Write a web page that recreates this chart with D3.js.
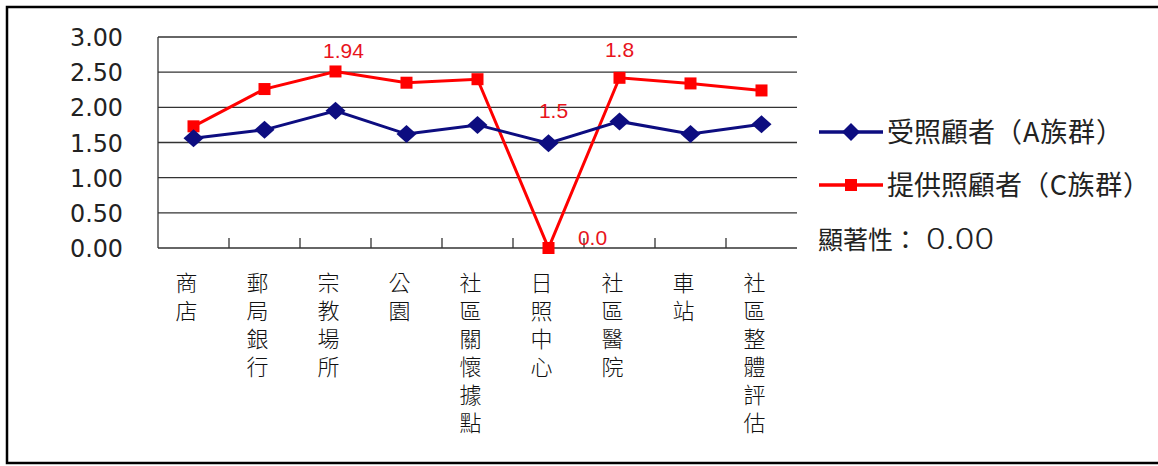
<!DOCTYPE html>
<html>
<head>
<meta charset="utf-8">
<script src="https://cdn.jsdelivr.net/npm/d3@7"></script>
<style>
  body { margin: 0; background: #fff; }
  svg text { font-family: "Noto Sans CJK TC", "Noto Sans", sans-serif; }
</style>
</head>
<body>
<svg id="chart" width="1158" height="466"></svg>
<script>
// chart data
let categories = ['商店', '郵局銀行', '宗教場所', '公園', '社區關懷據點', '日照中心', '社區醫院', '車站', '社區整體評估']
let seriesA = [1.56, 1.68, 1.95, 1.62, 1.75, 1.49, 1.80, 1.62, 1.76]
let seriesC = [1.73, 2.26, 2.51, 2.35, 2.40, 0.00, 2.42, 2.34, 2.24]
let seriesNames = [['受照顧者', '（A族群）'], ['提供照顧者', '（C族群）']]
let yTicks = [0, 0.5, 1, 1.5, 2, 2.5, 3]
// value labels: [category index, series, text]
let valueLabels = [[2, 'C', '1.94'], [5, 'A', '1.5'], [6, 'C', '1.8'], [5, 'C', '0.0']]
let significance = ['顯著性：', '0.00']

let svg = d3.select('#chart')
let blue = '#0d0d80'
let red = '#ff0000'

// outer frame
svg.append('rect')
    .attr('x', 7).attr('y', 7)
    .attr('width', 1170).attr('height', 456)
    .attr('fill', 'none').attr('stroke', '#000').attr('stroke-width', 2.5)

let plotLeft = 158, plotRight = 797, plotTop = 37, plotBottom = 248

let x = d3.scaleBand().domain(categories).range([plotLeft, plotRight])
let y = d3.scaleLinear().domain([0, 3]).range([plotBottom, plotTop])

// gridlines
svg.append('g').selectAll('line')
    .data(yTicks.slice(1))
    .enter().append('line')
    .attr('x1', plotLeft).attr('x2', plotRight)
    .attr('y1', d => y(d)).attr('y2', d => y(d))
    .attr('stroke', '#333').attr('stroke-width', 1.3)

// y axis labels
svg.append('g').selectAll('text')
    .data(yTicks)
    .enter().append('text')
    .attr('x', 123).attr('y', d => y(d) + 9)
    .attr('text-anchor', 'end')
    .attr('font-size', 24)
    .attr('fill', '#222')
    .style('font-family', '"DejaVu Sans", sans-serif')
    .attr('textLength', 53).attr('lengthAdjust', 'spacingAndGlyphs')
    .text(d => d.toFixed(2))

// left and bottom axis lines
svg.append('line').attr('x1', plotLeft).attr('x2', plotLeft).attr('y1', plotTop).attr('y2', plotBottom)
    .attr('stroke', '#333').attr('stroke-width', 1.3)
svg.append('line').attr('x1', plotLeft).attr('x2', plotRight).attr('y1', plotBottom).attr('y2', plotBottom)
    .attr('stroke', '#333').attr('stroke-width', 1.3)

// category boundary ticks (pointing up)
svg.append('g').selectAll('line')
    .data(categories.slice(1))
    .enter().append('line')
    .attr('x1', d => x(d)).attr('x2', d => x(d))
    .attr('y1', plotBottom - 10).attr('y2', plotBottom)
    .attr('stroke', '#333').attr('stroke-width', 1.3)

// category labels, vertical
svg.append('g').selectAll('text')
    .data(categories)
    .enter().append('text')
    .attr('x', d => x(d) + x.bandwidth() / 2 - 7)
    .attr('y', 272)
    .style('writing-mode', 'vertical-rl')
    .style('letter-spacing', '6px')
    .attr('font-size', 22)
    .attr('font-weight', 300)
    .attr('fill', '#111')
    .text(d => d)

let cx = (d, i) => x(categories[i]) + x.bandwidth() / 2
let line = d3.line().x((d, i) => cx(d, i)).y(d => y(d))

// series C (red squares)
svg.append('path').datum(seriesC)
    .attr('d', line).attr('fill', 'none')
    .attr('stroke', red).attr('stroke-width', 3)
svg.append('g').selectAll('rect')
    .data(seriesC)
    .enter().append('rect')
    .attr('x', (d, i) => cx(d, i) - 6).attr('y', d => y(d) - 6)
    .attr('width', 12).attr('height', 12)
    .attr('fill', red)

// series A (blue diamonds)
svg.append('path').datum(seriesA)
    .attr('d', line).attr('fill', 'none')
    .attr('stroke', blue).attr('stroke-width', 3)
svg.append('g').selectAll('path.dia')
    .data(seriesA)
    .enter().append('path')
    .attr('class', 'dia')
    .attr('d', (d, i) => {
        let px = cx(d, i), py = y(d)
        return `M${px},${py - 9}L${px + 10},${py}L${px},${py + 9}L${px - 10},${py}Z`
    })
    .attr('fill', blue)

// value labels
let labelOffsets = {'1.94': [8, -13], '1.5': [5, -25], '1.8': [0, -21], '0.0': [44, -3]}
svg.append('g').selectAll('text')
    .data(valueLabels)
    .enter().append('text')
    .attr('x', d => x(categories[d[0]]) + x.bandwidth() / 2 + labelOffsets[d[2]][0])
    .attr('y', d => {
        let v = d[1] === 'A' ? seriesA[d[0]] : seriesC[d[0]]
        return y(v) + labelOffsets[d[2]][1]
    })
    .attr('text-anchor', 'middle')
    .attr('font-size', 21)
    .attr('fill', '#e8141c')
    .style('font-family', '"Liberation Sans", Arial, sans-serif')
    .text(d => d[2])

// legend
let legend = svg.append('g')
let legendColors = [blue, red]
let legendEnds = [1123, 1150]
seriesNames.forEach((name, i) => {
    let ly = 132 + i * 53
    legend.append('line')
        .attr('x1', 819).attr('x2', 883).attr('y1', ly).attr('y2', ly)
        .attr('stroke', legendColors[i]).attr('stroke-width', 3.5)
    if (i === 0) {
        legend.append('path')
            .attr('d', `M851,${ly - 9}L860,${ly}L851,${ly + 9}L842,${ly}Z`)
            .attr('fill', blue)
    } else {
        legend.append('rect')
            .attr('x', 845).attr('y', ly - 6).attr('width', 12).attr('height', 12)
            .attr('fill', red)
    }
    let t = legend.append('text')
        .attr('x', 887).attr('y', ly + 10)
        .attr('font-size', 27)
        .attr('fill', '#222')
    t.append('tspan').text(name[0])
    let start = 887 + name[0].length * 27
    t.append('tspan')
        .attr('x', start)
        .attr('textLength', legendEnds[i] - start).attr('lengthAdjust', 'spacing')
        .text(name[1])
})
let sig = legend.append('text')
    .attr('x', 818).attr('y', 249)
    .attr('font-size', 25)
    .attr('fill', '#222')
sig.append('tspan').text(significance[0])
sig.append('tspan')
    .attr('x', 926).attr('font-size', 28).attr('font-weight', 300)
    .attr('textLength', 68).attr('lengthAdjust', 'spacingAndGlyphs')
    .text(significance[1])
</script>
</body>
</html>
